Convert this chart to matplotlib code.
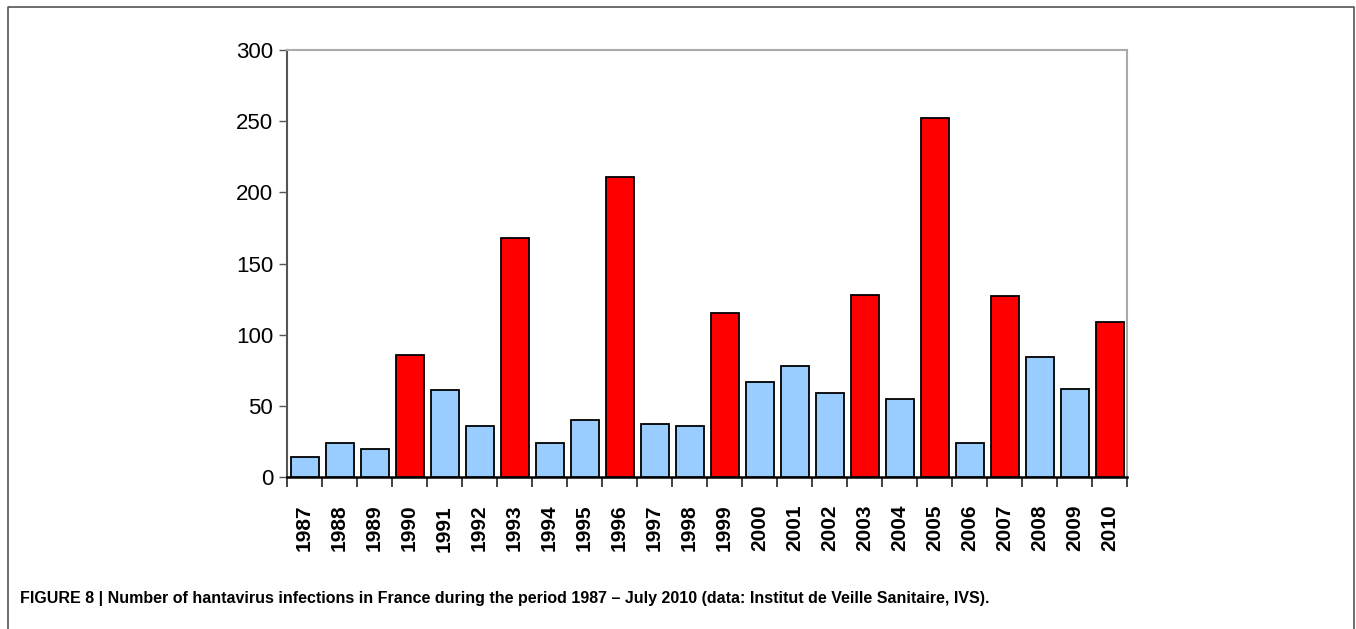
import matplotlib.pyplot as plt
from matplotlib.lines import Line2D

# annual hantavirus cases, France
years = [str(y) for y in range(1987, 2011)]
cases = [14, 24, 20, 86, 61, 36, 168, 24, 40, 211, 37, 36, 115,
         67, 78, 59, 128, 55, 252, 24, 127, 84, 62, 109]
epidemic = ['1990', '1993', '1996', '1999', '2003', '2005', '2007', '2010']

caption = ("FIGURE 8 | Number of hantavirus infections in France during the period "
           "1987 \u2013 July 2010 (data: Institut de Veille Sanitaire, IVS).")

plt.rcParams['font.family'] = ['Liberation Sans', 'DejaVu Sans']

fig = plt.figure(figsize=(13.56, 6.29), dpi=100)
W, H = 1356, 629
ax = fig.add_axes([287 / W, 1 - 477 / H, (1127 - 287) / W, (477 - 50) / H])

colors = ['#ff0000' if y in epidemic else '#99ccff' for y in years]
x = range(len(years))
ax.bar(x, cases, width=0.8, color=colors, edgecolor='black', linewidth=1.3, zorder=3)

ax.set_xlim(-0.5, len(years) - 0.5)
ax.set_ylim(0, 300)
ax.set_yticks(range(0, 301, 50))
ax.tick_params(axis='y', labelsize=16, length=6, width=1, direction='out',
               color='#555555', pad=4)
ax.set_xticks(x)
ax.set_xticklabels(years, rotation=90, fontsize=15, fontweight='bold')
ax.tick_params(axis='x', length=0, pad=20)
# ticks between categories
ax.set_xticks([i - 0.5 for i in range(len(years) + 1)], minor=True)
ax.tick_params(axis='x', which='minor', length=7, width=1.2, direction='out', color='#222222')

ax.spines['left'].set_color('#555555')
ax.spines['left'].set_linewidth(1.5)
ax.spines['bottom'].set_color('black')
ax.spines['bottom'].set_linewidth(1.8)
for s in ['top', 'right']:
    ax.spines[s].set_color('#aaaaaa')
    ax.spines[s].set_linewidth(1.5)

fig.text(20 / W, 1 - 598 / H, caption, fontsize=11.5, fontweight='bold',
         va='center', ha='left')

# outer frame
fx = [8 / W, 8 / W, 1354 / W, 1354 / W]
fy = [0, 1 - 7 / H, 1 - 7 / H, 0]
fig.add_artist(Line2D(fx, fy, color='#555555', linewidth=1.2, transform=fig.transFigure))

fig.savefig('out.png', dpi=100)
